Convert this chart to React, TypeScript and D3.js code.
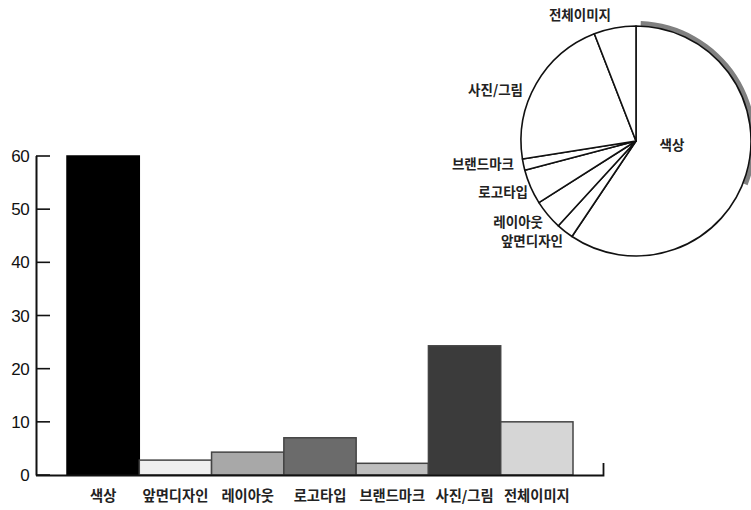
import React from "react";
import * as d3 from "d3";

const categories = ["색상", "앞면디자인", "레이아웃", "로고타입", "브랜드마크", "사진/그림", "전체이미지"];
const barValues = [60, 2.8, 4.3, 7.0, 2.2, 24.3, 10];
const pieValues = [59.4, 2.4, 4.2, 4.9, 1.6, 21.6, 5.9];
const yTicks = [0, 10, 20, 30, 40, 50, 60];
const barColors = ["#000000", "#efefef", "#a8a8a8", "#6b6b6b", "#bebebe", "#3b3b3b", "#d6d6d6"];

// label layout for the pie (x, y, anchor)
const pieLabelLayout: [number, number, string][] = [
  [672, 145, "middle"],
  [563, 241, "end"],
  [543, 222, "end"],
  [528, 192, "end"],
  [514, 164, "end"],
  [523, 90, "end"],
  [611, 15, "end"],
];

const W = 751;
const H = 510;
const FONT_KR = "'Noto Sans CJK KR', 'Noto Sans', sans-serif";
const FONT_NUM = "'Liberation Sans', Arial, sans-serif";

export default function App() {
  const x = d3.scaleBand<string>().domain(categories).range([67, 573]).padding(0);
  const y = d3.scaleLinear().domain([0, 60]).range([475, 156]);

  const cx = 636, cy = 141, r = 115;
  const pie = d3.pie<number>().sort(null).value((d) => d);
  const arcs = pie(pieValues);
  const arc = d3.arc<d3.PieArcDatum<number>>().innerRadius(0).outerRadius(r);
  const shadowArc = d3.arc().innerRadius(r).outerRadius(r + 5).startAngle(0.04).endAngle(Math.PI * 0.62);

  return (
    <svg width={W} height={H} style={{ position: "absolute", left: 0, top: 0, background: "#fff" }}>
      {/* bars */}
      {categories.map((c, i) => (
        <rect
          key={c}
          x={x(c)!}
          y={y(barValues[i])}
          width={x.bandwidth()}
          height={y(0) - y(barValues[i])}
          fill={barColors[i]}
          stroke={i === 0 ? "#000" : "#444"}
          strokeWidth={1.5}
        />
      ))}
      {/* y axis */}
      <line x1={36.5} x2={36.5} y1={156} y2={475.5} stroke="#111" strokeWidth={2} />
      {yTicks.map((t) => (
        <g key={t}>
          <line x1={36} x2={50} y1={y(t)} y2={y(t)} stroke="#111" strokeWidth={1.6} />
          <text
            x={29}
            y={y(t) + 6}
            textAnchor="end"
            fontFamily={FONT_NUM}
            fontSize={17}
            fill="#111"
            letterSpacing={-0.6}
          >
            {t}
          </text>
        </g>
      ))}
      {/* baseline */}
      <path d={`M36,475.5 H603.5 V463`} fill="none" stroke="#111" strokeWidth={1.8} />
      {/* category labels */}
      {categories.map((c) => (
        <text
          key={c}
          x={x(c)! + x.bandwidth() / 2}
          y={501}
          textAnchor="middle"
          fontFamily={FONT_KR}
          fontWeight={700}
          fontSize={14.3}
          fill="#222"
        >
          {c}
        </text>
      ))}
      {/* pie */}
      <g transform={`translate(${cx},${cy})`}>
        <path d={shadowArc({} as any) || ""} fill="#808080" />
        {arcs.map((a, i) => (
          <path key={i} d={arc(a) || ""} fill="#fff" stroke="#111" strokeWidth={1.6} strokeLinejoin="round" />
        ))}
      </g>
      {categories.map((c, i) => (
        <text
          key={"p" + c}
          x={pieLabelLayout[i][0]}
          y={pieLabelLayout[i][1] + 5}
          textAnchor={pieLabelLayout[i][2] as any}
          fontFamily={FONT_KR}
          fontWeight={700}
          fontSize={13.5}
          fill="#222"
        >
          {c}
        </text>
      ))}
    </svg>
  );
}
